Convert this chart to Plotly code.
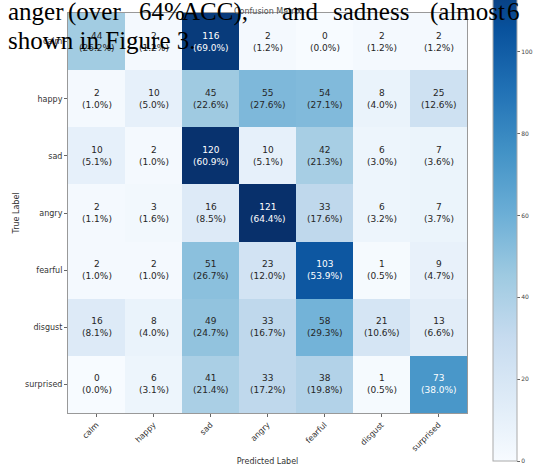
import plotly.graph_objects as go

labels = ["calm", "happy", "sad", "angry", "fearful", "disgust", "surprised"]
counts = [
    [44, 2, 116, 2, 0, 2, 2],
    [2, 10, 45, 55, 54, 8, 25],
    [10, 2, 120, 10, 42, 6, 7],
    [2, 3, 16, 121, 33, 6, 7],
    [2, 2, 51, 23, 103, 1, 9],
    [16, 8, 49, 33, 58, 21, 13],
    [0, 6, 41, 33, 38, 1, 73],
]
colorbar_ticks = [0, 20, 40, 60, 80, 100]
overlay_line1 = ["anger", "(over", "64%", "ACC),", "and", "sadness", "(almost", "6"]
overlay_line1_left = [8, 68, 139, 182, 282, 333, 430, 507]
overlay_line2 = "shown in Figure 3."

W, H = 533, 468
ml, mr, mt, mb = 68, 66, 13, 55
pw, ph = W - ml - mr, H - mt - mb

def px_x(x):
    return (x - ml) / pw

def px_y(y):
    return (H - mb - y) / ph

zmax = max(max(r) for r in counts)

fig = go.Figure(go.Heatmap(
    z=counts, x=labels, y=labels,
    colorscale="Blues", zmin=0, zmax=zmax,
    showscale=True,
    colorbar=dict(
        thickness=24, thicknessmode="pixels",
        len=495, lenmode="pixels",
        x=px_x(493), xanchor="left",
        y=px_y(461), yanchor="bottom",
        outlinecolor="#aaaaaa", outlinewidth=1,
        tickvals=colorbar_ticks, ticks="outside", ticklen=3,
        tickcolor="#666", tickfont=dict(size=6, color="#444", family="DejaVu Sans"),
        xpad=0, ypad=0,
    ),
    hoverinfo="skip",
))

annotations = []
thresh = zmax / 2
for i, row in enumerate(counts):
    total = sum(row)
    for j, v in enumerate(row):
        pct = 100 * v / total
        annotations.append(dict(
            x=labels[j], y=labels[i], xref="x", yref="y",
            text=f"{v}<br>({pct:.1f}%)", showarrow=False,
            font=dict(size=9, family="DejaVu Sans",
                      color="white" if v > thresh else "#262626"),
        ))

# Title (mostly hidden behind overlay text)
annotations.append(dict(
    x=px_x(268), y=px_y(6), xref="paper", yref="paper",
    text="Confusion Matrix", showarrow=False, borderpad=0,
    font=dict(size=8, family="DejaVu Sans", color="#555"),
))

# Overlaid paper text
for word, left in zip(overlay_line1, overlay_line1_left):
    annotations.append(dict(
        x=px_x(left - 1), y=px_y(11.5), xref="paper", yref="paper",
        xanchor="left", yanchor="middle",
        text=word, showarrow=False, borderpad=0,
        font=dict(size=25, family="Liberation Serif", color="black"),
    ))
annotations.append(dict(
    x=px_x(7), y=px_y(40), xref="paper", yref="paper",
    xanchor="left", yanchor="middle",
    text=overlay_line2, showarrow=False, borderpad=0,
    font=dict(size=25, family="Liberation Serif", color="black"),
))

axis_common = dict(
    showline=True, mirror=True, linecolor="#999", linewidth=1,
    ticks="outside", ticklen=3, tickcolor="#666",
    tickfont=dict(size=8, family="DejaVu Sans", color="#333"),
    showgrid=False, zeroline=False, automargin=False,
)

fig.update_layout(
    width=W, height=H,
    margin=dict(l=ml, r=mr, t=mt, b=mb, pad=0, autoexpand=False),
    paper_bgcolor="white", plot_bgcolor="white",
    annotations=annotations,
    xaxis=dict(**axis_common, tickangle=-45,
               title=dict(text="Predicted Label", standoff=6,
                          font=dict(size=8, family="DejaVu Sans", color="#333"))),
    yaxis=dict(**axis_common, autorange="reversed",
               title=dict(text="True Label", standoff=4,
                          font=dict(size=8, family="DejaVu Sans", color="#333"))),
)

fig.write_html("out.html", config={"displayModeBar": False},
               post_script="document.body.style.margin='0';")
